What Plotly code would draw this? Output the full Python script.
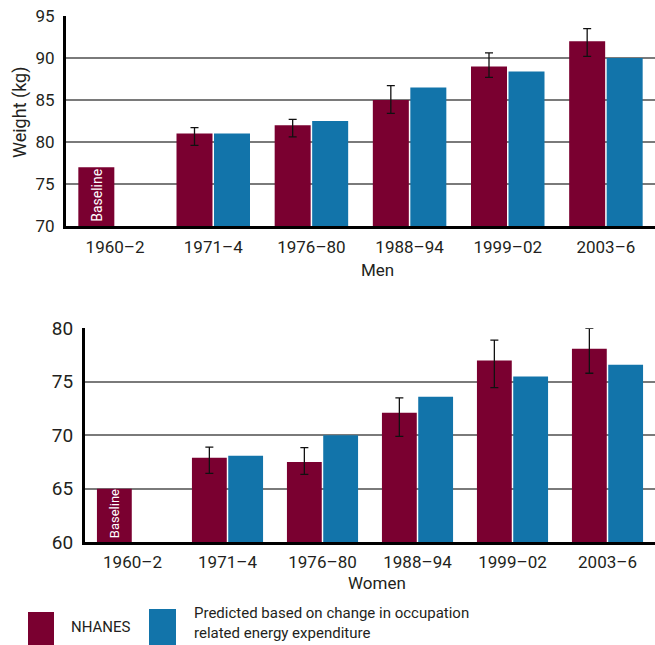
import plotly.graph_objects as go

# Survey periods
periods = ["1960–2", "1971–4", "1976–80", "1988–94", "1999–02", "2003–6"]

# Men: measured (NHANES) mean weight with error range, and predicted weight (kg)
men_nhanes = [77.0, 81.0, 82.0, 85.0, 89.0, 92.0]
men_nhanes_hi = [None, 81.7, 82.7, 86.7, 90.6, 93.5]
men_nhanes_lo = [None, 79.6, 80.6, 83.4, 87.7, 90.2]
men_predicted = [None, 81.0, 82.5, 86.5, 88.4, 90.0]

# Women: measured (NHANES) mean weight with error range, and predicted weight (kg)
women_nhanes = [65.0, 67.9, 67.5, 72.1, 77.0, 78.1]
women_nhanes_hi = [None, 68.9, 68.85, 73.5, 78.9, 80.0]
women_nhanes_lo = [None, 66.45, 66.35, 69.9, 74.45, 75.8]
women_predicted = [None, 68.1, 70.0, 73.6, 75.5, 76.6]

men_ticks = [70, 75, 80, 85, 90, 95]
women_ticks = [60, 65, 70, 75, 80]

MAROON = "#7a0030"
BLUE = "#1274aa"
TEXT = "#231f20"
FONT = "Roboto"

BARGAP = 0.236
GROUPGAP = 0.04
# centre of the first (NHANES) bar of a two-bar group, in category units
NHANES_OFFSET = -(1 - BARGAP) / 4

W, H = 655, 645


def px_x(v):
    return v / W


def px_y(v):
    return 1 - v / H


fig = go.Figure()


def add_panel(nhanes, hi, lo, predicted, xref, yref, base, label_size):
    plus = [h - v for h, v in zip(hi[1:], nhanes[1:])]
    minus = [v - l for l, v in zip(lo[1:], nhanes[1:])]
    # baseline survey bar (no error range)
    fig.add_trace(go.Bar(
        x=periods[:1], y=nhanes[:1], xaxis=xref, yaxis=yref,
        offsetgroup="nhanes", marker=dict(color=MAROON, line=dict(width=0)),
        showlegend=False, hoverinfo="skip",
    ))
    # later surveys with error bars
    fig.add_trace(go.Bar(
        x=periods[1:], y=nhanes[1:], xaxis=xref, yaxis=yref,
        offsetgroup="nhanes", marker=dict(color=MAROON, line=dict(width=0)),
        error_y=dict(type="data", symmetric=False, array=plus, arrayminus=minus,
                     color="#111111", thickness=1.3, width=4),
        cliponaxis=False, showlegend=False,
    ))
    fig.add_trace(go.Bar(
        x=periods, y=predicted, xaxis=xref, yaxis=yref,
        offsetgroup="pred", marker=dict(color=BLUE, line=dict(width=0)),
        showlegend=False,
    ))
    # vertical label inside the baseline bar
    fig.add_annotation(
        xref=xref, yref=yref, x=NHANES_OFFSET, y=base, text="Baseline",
        textangle=-90, showarrow=False, xanchor="center", yanchor="bottom",
        yshift=2, font=dict(family=FONT, size=label_size, color="white"),
    )


add_panel(men_nhanes, men_nhanes_hi, men_nhanes_lo, men_predicted, "x", "y",
          men_ticks[0], 14)
add_panel(women_nhanes, women_nhanes_hi, women_nhanes_lo, women_predicted,
          "x2", "y2", women_ticks[0], 13)

xcommon = dict(
    type="category", categoryorder="array", categoryarray=periods,
    range=[-0.5, 5.5], showline=True, linecolor="black", linewidth=3,
    showgrid=False, ticks="", tickfont=dict(family=FONT, size=17, color=TEXT),
    fixedrange=True, automargin=False,
)
ycommon = dict(
    showline=True, linecolor="black", linewidth=3, showgrid=True,
    gridcolor="#7a7a7a", gridwidth=1.5, ticks="", zeroline=False,
    fixedrange=True, automargin=False,
)

fig.update_layout(
    width=W, height=H, margin=dict(l=0, r=0, t=0, b=0, autoexpand=False),
    paper_bgcolor="white", plot_bgcolor="white",
    barmode="group", bargap=BARGAP, bargroupgap=GROUPGAP,
    xaxis=dict(xcommon, domain=[px_x(66), 1], anchor="y", ticklabelstandoff=4),
    yaxis=dict(ycommon, domain=[px_y(226), px_y(16)], anchor="x",
               range=[men_ticks[0], men_ticks[-1]], tickvals=men_ticks,
               ticklabelstandoff=5,
               tickfont=dict(family=FONT, size=17, color=TEXT)),
    xaxis2=dict(xcommon, domain=[px_x(85), 1], anchor="y2", ticklabelstandoff=2),
    yaxis2=dict(ycommon, domain=[px_y(542.3), px_y(328.3)], anchor="x2",
                range=[women_ticks[0], women_ticks[-1]], tickvals=women_ticks,
                ticklabelstandoff=5,
                tickfont=dict(family=FONT, size=19, color=TEXT)),
)

annotations = [
    dict(text="Weight (kg)", x=px_x(20), y=px_y(113), textangle=-90, size=18),
    dict(text="Men", x=px_x(377), y=px_y(270), size=17),
    dict(text="Women", x=px_x(377), y=px_y(583), size=17),
    dict(text="NHANES", x=px_x(69), y=px_y(627), xanchor="left", size=15),
    dict(text="Predicted based on change in occupation<br>related energy expenditure",
         x=px_x(192), y=px_y(623), xanchor="left", align="left", size=15),
]
for a in annotations:
    a.setdefault("xanchor", "center")
    size = a.pop("size")
    fig.add_annotation(xref="paper", yref="paper", showarrow=False,
                       yanchor="middle",
                       font=dict(family=FONT, size=size, color=TEXT), **a)

# legend swatches
fig.add_shape(type="rect", xref="paper", yref="paper",
              x0=px_x(28), x1=px_x(54), y0=px_y(612), y1=px_y(650),
              fillcolor=MAROON, line=dict(width=0))
fig.add_shape(type="rect", xref="paper", yref="paper",
              x0=px_x(149), x1=px_x(176), y0=px_y(609), y1=px_y(650),
              fillcolor=BLUE, line=dict(width=0))

fig.write_html("out.html")
